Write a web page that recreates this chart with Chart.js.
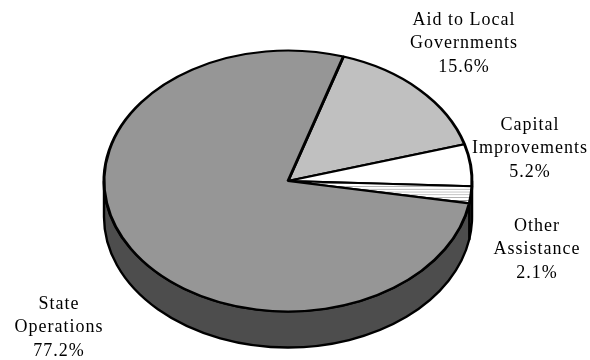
<!DOCTYPE html>
<html>
<head>
<meta charset="utf-8">
<script src="https://cdn.jsdelivr.net/npm/chart.js@4"></script>
<style>
  html, body { margin: 0; padding: 0; background: #fff; }
  #budget { display: block; }
</style>
</head>
<body>
<canvas id="budget" width="590" height="360"></canvas>
<script>
// Spending shares, clockwise from the top
const categories = [['Aid to Local', 'Governments'], ['Capital', 'Improvements'], ['Other', 'Assistance'], ['State', 'Operations']];
const shares = [15.6, 5.2, 2.1, 77.2];
const shareLabels = ['15.6%', '5.2%', '2.1%', '77.2%'];

// label anchors (centre of first text line)
const labelAnchors = [[464, 20], [530, 125], [537, 226], [59, 304]];

const topColors = ['#c0c0c0', '#ffffff', null, '#969696'];
const sideColors = ['#8a8a8a', '#b0b0b0', '#c8c8c8', '#4d4d4d'];
const squash = 0.709;
const depth = 36;

// thin horizontal hatch for the small slice
function hatchPattern() {
    const c = document.createElement('canvas');
    c.width = 8; c.height = 4;
    const g = c.getContext('2d');
    g.fillStyle = '#fff';
    g.fillRect(0, 0, 8, 4);
    g.fillStyle = '#9a9a9a';
    g.fillRect(0, 0, 8, 1);
    return g.createPattern(c, 'repeat');
}

const ctx = document.getElementById('budget').getContext('2d');
const fills = topColors.map(c => c || hatchPattern());

// draws the visible front wall of every slice, then flattens the pie
const tiltPlugin = {
    id: 'tilt',
    beforeDatasetsDraw(chart) {
        const c = chart.ctx;
        const arcs = chart.getDatasetMeta(0).data;
        arcs.forEach((arc, i) => {
            const { x, y, outerRadius: r, startAngle, endAngle } = arc.getProps(['x', 'y', 'outerRadius', 'startAngle', 'endAngle'], true);
            const ry = r * squash;
            for (let n = -1; n <= 2; n++) {
                const lo = Math.max(startAngle, n * 2 * Math.PI);
                const hi = Math.min(endAngle, n * 2 * Math.PI + Math.PI);
                if (hi <= lo) continue;
                c.save();
                c.beginPath();
                c.ellipse(x, y, r, ry, 0, lo, hi);
                c.lineTo(x + r * Math.cos(hi), y + ry * Math.sin(hi) + depth);
                c.ellipse(x, y + depth, r, ry, 0, hi, lo, true);
                c.closePath();
                c.fillStyle = sideColors[i];
                c.fill();
                c.lineWidth = 2.4;
                c.strokeStyle = '#000';
                c.lineJoin = 'round';
                c.stroke();
                c.restore();
            }
        });
        const a = arcs[0];
        c.save();
        c.translate(0, a.y);
        c.scale(1, squash);
        c.translate(0, -a.y);
    },
    afterDatasetsDraw(chart) {
        const c = chart.ctx;
        c.restore();
        c.save();
        c.fillStyle = '#000';
        c.font = '18px "Liberation Serif", "Times New Roman", serif';
        c.letterSpacing = '1px';
        c.textAlign = 'center';
        c.textBaseline = 'middle';
        chart.data.labels.forEach((lines, i) => {
            const [lx, ly] = labelAnchors[i];
            lines.concat(shareLabels[i]).forEach((t, k) => c.fillText(t, lx, ly + k * 23.5));
        });
        c.restore();
    }
};

new Chart(ctx, {
    type: 'pie',
    data: {
        labels: categories,
        datasets: [{
            data: shares,
            backgroundColor: fills,
            borderColor: '#000',
            borderWidth: 3,
            clip: false
        }]
    },
    options: {
        responsive: false,
        animation: false,
        rotation: 17.5,
        radius: 184,
        layout: { padding: { left: 0, right: 14, top: 2, bottom: 0 } },
        plugins: {
            legend: { display: false },
            tooltip: { enabled: false }
        }
    },
    plugins: [tiltPlugin]
});
</script>
</body>
</html>
